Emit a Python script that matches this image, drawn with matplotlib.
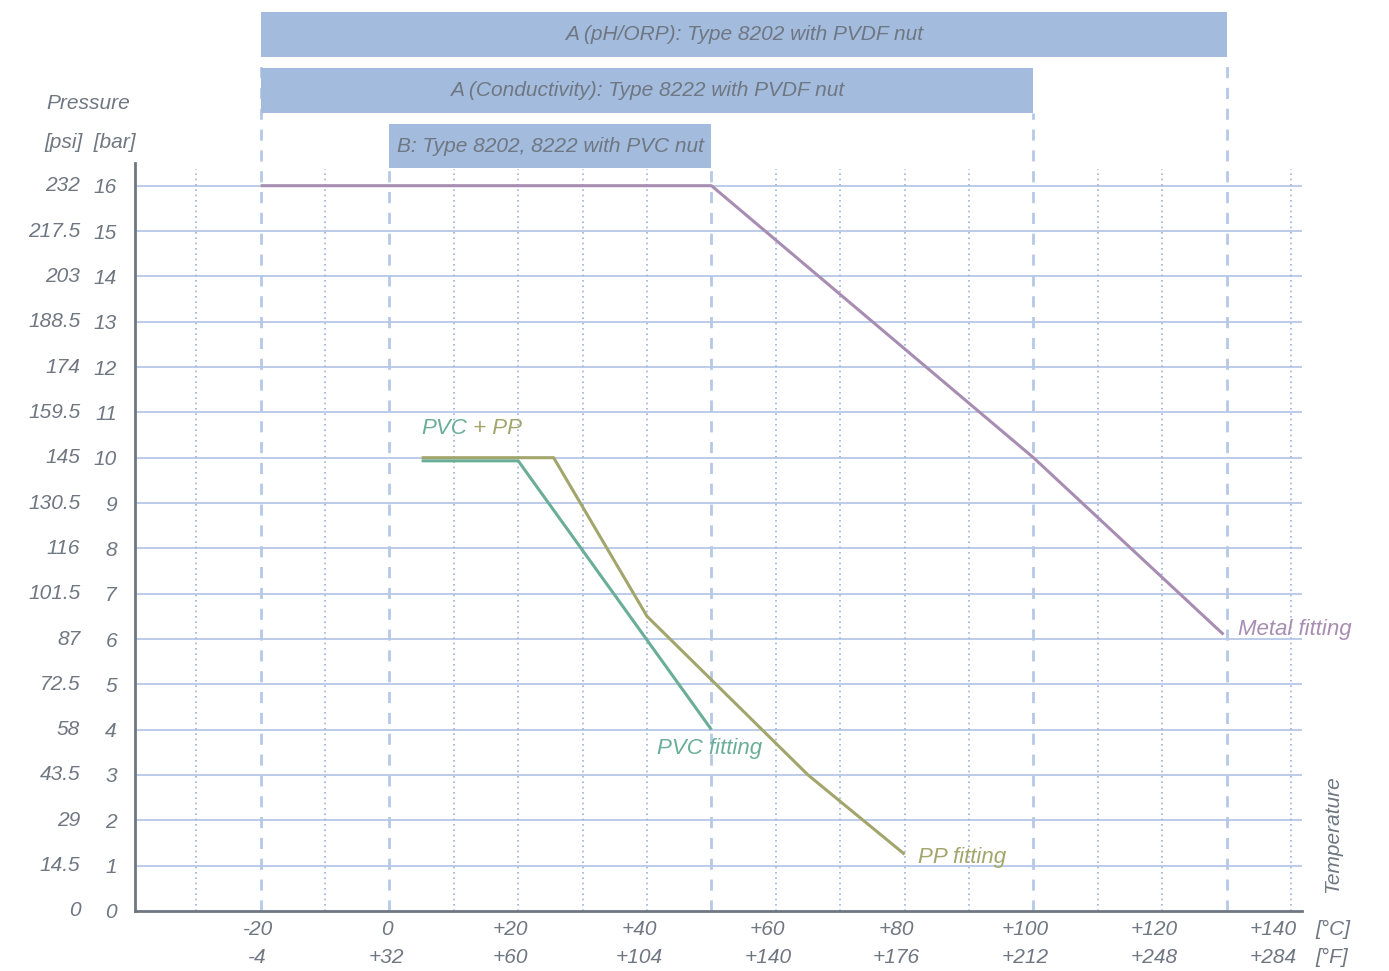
import matplotlib
matplotlib.use("Agg")
import matplotlib.pyplot as plt
from matplotlib.transforms import offset_copy

# data
temp_c = [-20, 0, 20, 40, 60, 80, 100, 120, 140]
temp_f = ["-4", "+32", "+60", "+104", "+140", "+176", "+212", "+248", "+284"]
bar_vals = list(range(17))
psi_vals = ["0", "14.5", "29", "43.5", "58", "72.5", "87", "101.5", "116", "130.5",
            "145", "159.5", "174", "188.5", "203", "217.5", "232"]

metal_t = [-20, 50, 100, 129.5]
metal_p = [16, 16, 10, 6.1]
pvc_t = [5, 20, 50]
pvc_p = [9.93, 9.93, 4.0]
pp_t = [5, 25.5, 40, 65, 80]
pp_p = [10, 10, 6.5, 3.0, 1.25]

bands = [
    ("A (pH/ORP): Type 8202 with PVDF nut", -20, 130),
    ("A (Conductivity): Type 8222 with PVDF nut", -20, 100),
    ("B: Type 8202, 8222 with PVC nut", 0, 50),
]
dotted_t = [-30, -10, 10, 20, 30, 40, 60, 70, 80, 90, 110, 120, 140]

GRAY = "#6F7782"
BAND = "#A3BBDD"
GRID = "#A9BFE3"
METAL = "#A88DB3"
PVC = "#6AAE98"
PP = "#A2A66C"
FS = 15

plt.rcParams["font.family"] = ["Liberation Sans", "DejaVu Sans"]
plt.rcParams["font.style"] = "italic"

fig = plt.figure(figsize=(13.89, 9.71), dpi=100)
ax = fig.add_axes([0.0972, 0.0618, 0.8402, 0.7703])
ax.set_xlim(-39.5, 141.7)
ax.set_ylim(0, 16.5)

for s in ["top", "right"]:
    ax.spines[s].set_visible(False)
for s in ["left", "bottom"]:
    ax.spines[s].set_color(GRAY)
    ax.spines[s].set_linewidth(2)

# horizontal grid
for b in bar_vals[1:]:
    ax.axhline(b, color=GRID, lw=1.1, zorder=1)

# dotted verticals
for t in dotted_t:
    ax.plot([t, t], [0, 16.36], color="#9DB3E0", lw=1.2, ls=(0, (1, 2.2)), zorder=1)

# bands + dashed limits
band_y = [(18.85, 19.84), (17.61, 18.60), (16.38, 17.37)]
dash_top = {}
for (label, t0, t1), (y0, y1) in zip(bands, band_y):
    ax.fill_between([t0, t1], y0, y1, color=BAND, lw=0, clip_on=False, zorder=2)
    ax.text((t0 + t1) / 2, (y0 + y1) / 2, label, ha="center", va="center",
            fontsize=FS, color=GRAY, clip_on=False, zorder=3)
    for t in (t0, t1):
        dash_top[t] = max(dash_top.get(t, 0), y0)
for t, top in dash_top.items():
    ax.plot([t, t], [0, top], color="#B5C8E8", lw=2, ls=(0, (4, 3.5)),
            clip_on=False, zorder=1)

# curves
ax.plot(metal_t, metal_p, color=METAL, lw=2.2, zorder=4, solid_capstyle="butt")
ax.plot(pp_t, pp_p, color=PP, lw=2.2, zorder=4, solid_capstyle="butt")
ax.plot(pvc_t, pvc_p, color=PVC, lw=2.2, zorder=4, solid_capstyle="butt")

ax.text(131.7, 6.2, "Metal fitting", color=METAL, fontsize=FS + 1, va="center", zorder=5)
ax.text(41.5, 3.58, "PVC fitting", color=PVC, fontsize=FS + 1, va="center", zorder=5)
ax.text(82.0, 1.18, "PP fitting", color=PP, fontsize=FS + 1, va="center", zorder=5)
t1 = ax.text(4.9, 10.65, "PVC", color=PVC, fontsize=FS + 1, va="center", zorder=5)
ax.annotate(" + PP", xycoords=t1, xy=(1, 0.5), va="center", color=PP, fontsize=FS + 1)

# y labels: bar as ticks, psi as text
ax.set_yticks(bar_vals)
ax.set_yticklabels([str(b) for b in bar_vals], fontsize=FS, color=GRAY)
ax.tick_params(axis="y", length=0, pad=13)
for b, p in zip(bar_vals, psi_vals):
    ax.text(-48.0, b, p, ha="right", va="center", fontsize=FS, color=GRAY, clip_on=False)

# x labels: two rows, drawn as text slightly left of each position
ax.set_xticks(temp_c)
ax.set_xticklabels([])
ax.tick_params(axis="x", length=0)
for i, (t, f) in enumerate(zip(temp_c, temp_f)):
    dx = -3 if t <= 0 else -8
    if i == len(temp_c) - 1:
        dx = -18
    tr = offset_copy(ax.transData, fig=fig, x=dx, y=0, units="dots")
    c = str(t) if t <= 0 else "+" + str(t)
    ax.text(t, -0.40, c, ha="center", va="center", fontsize=FS, color=GRAY,
            transform=tr, clip_on=False)
    ax.text(t, -1.02, f, ha="center", va="center", fontsize=FS, color=GRAY,
            transform=tr, clip_on=False)
ax.text(143.8, -0.40, "[°C]", ha="left", va="center", fontsize=FS, color=GRAY, clip_on=False)
ax.text(143.8, -1.02, "[°F]", ha="left", va="center", fontsize=FS, color=GRAY, clip_on=False)
ax.text(146.4, 0.40, "Temperature", rotation=90, ha="center", va="bottom",
        fontsize=FS, color=GRAY, clip_on=False)

ax.text(-53.3, 17.81, "Pressure", ha="left", va="center", fontsize=FS, color=GRAY, clip_on=False)
ax.text(-53.5, 16.95, "[psi]  [bar]", ha="left", va="center", fontsize=FS, color=GRAY, clip_on=False)

fig.savefig("out.png", dpi=100)
